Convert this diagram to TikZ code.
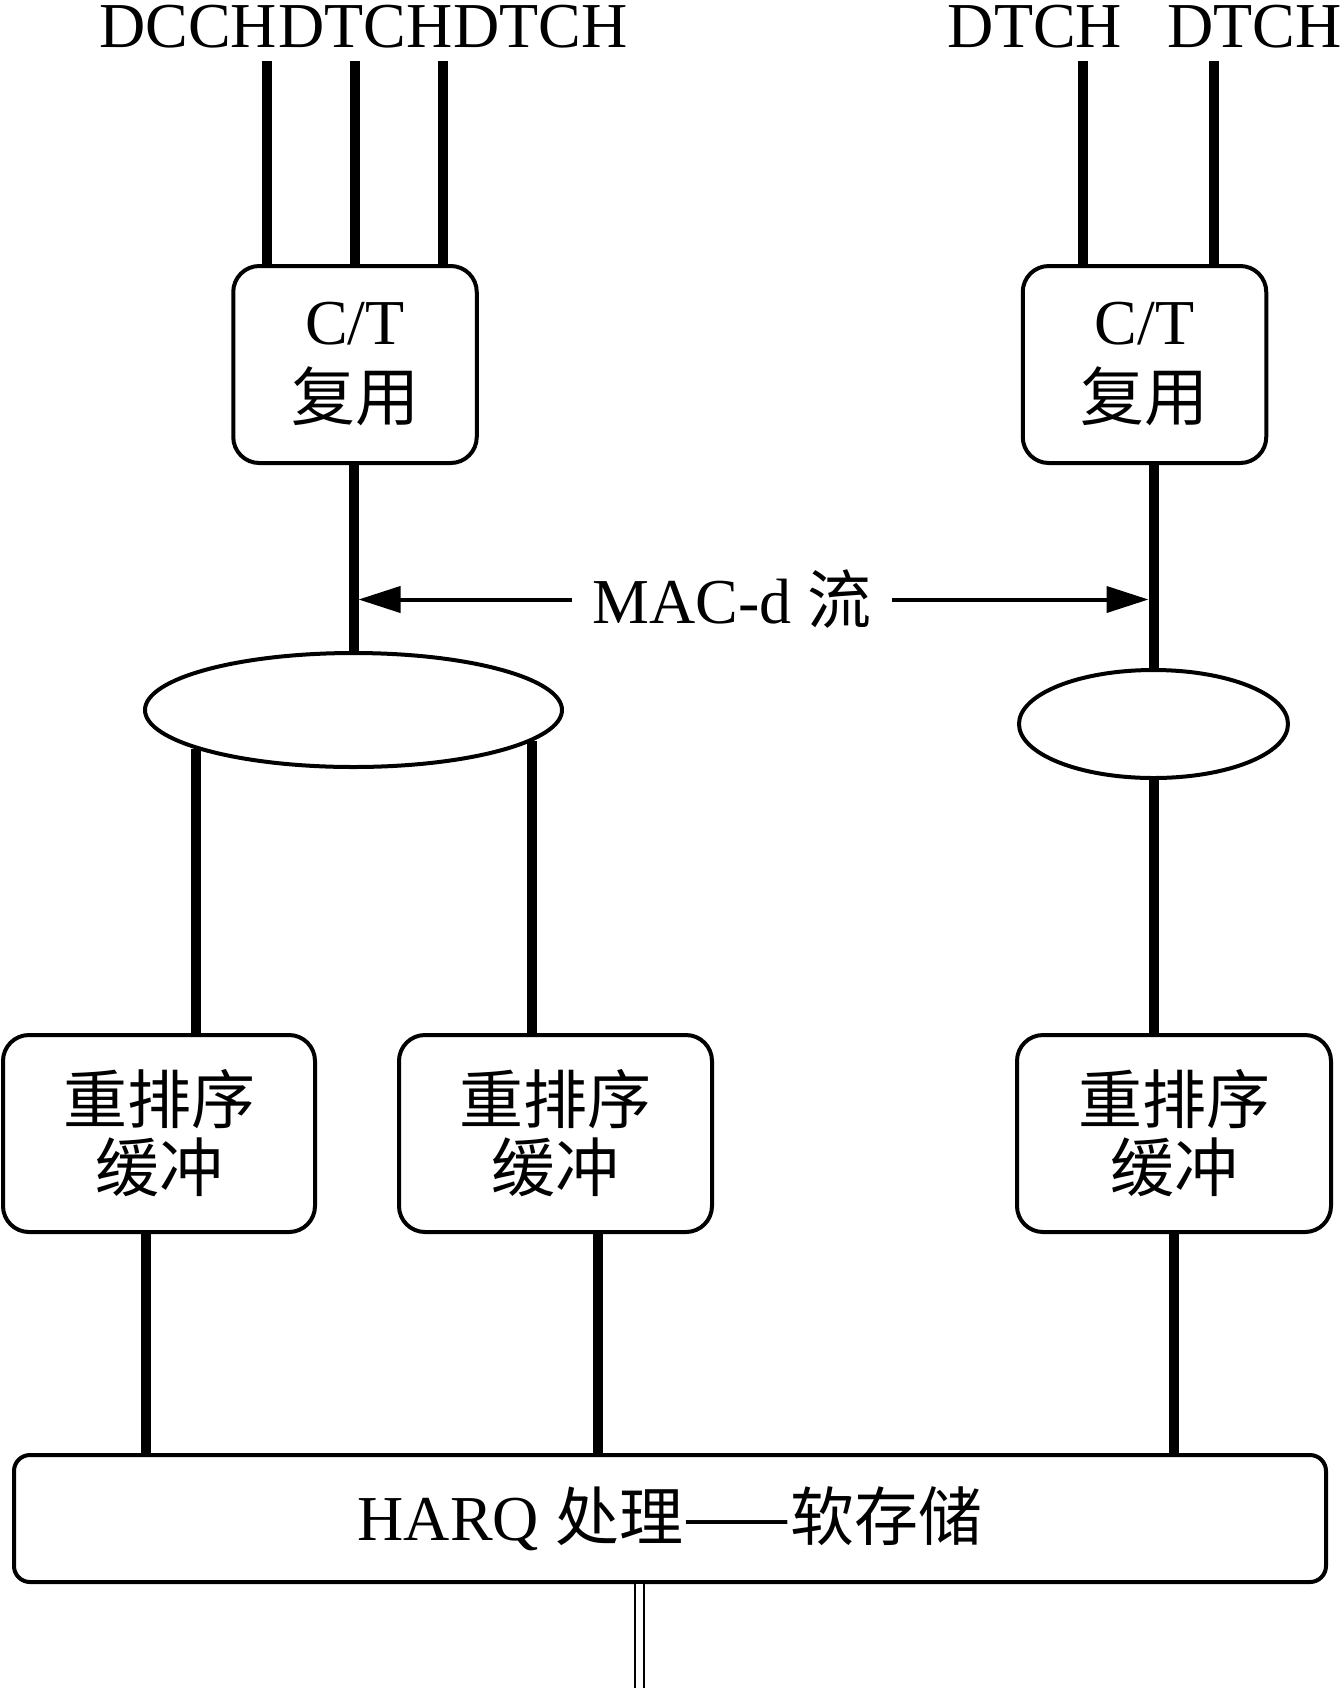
\documentclass[tikz,border=0pt]{standalone}
\usepackage{fontspec}
\setmainfont{Liberation Serif}
\newfontfamily\cjk{Noto Sans CJK SC}
\usetikzlibrary{shapes.geometric,arrows.meta}
\begin{document}
\begin{tikzpicture}[x=0.5pt,y=-0.5pt,
  every node/.style={font=\fontsize{32}{38}\selectfont},
  lbl/.style={inner sep=0pt},
  thk/.style={line width=5pt},
  ctbox/.style={draw,line width=2pt,rounded corners=13pt,align=center,inner sep=0pt,
    minimum width=121.75pt,minimum height=98.5pt},
  rbox/.style={draw,line width=2pt,rounded corners=13pt,align=center,inner sep=0pt,
    minimum height=98.5pt,font=\fontsize{32}{34}\selectfont},
  elly/.style={ellipse,draw,line width=2pt,inner sep=0pt},
  arr/.style={line width=2pt,-{Triangle[length=21pt,width=13pt]},shorten >=2.5pt},
  dbl/.style={line width=1.2pt,double distance=3.1pt}
]
\useasboundingbox (0,0) rectangle (1342,1688);

% top labels
\node[lbl,anchor=base west] (l1) at (99,47) {DCCH};
\node[lbl,anchor=base west] (l2) at (l1.base east) {DTCH};
\node[lbl,anchor=base west] (l3) at (l2.base east) {DTCH};
\node[lbl,anchor=base] (l4) at (1035,47) {DTCH};
\node[lbl,anchor=base east] (l5) at (1342,47) {DTCH};

% C/T boxes
\node[ctbox] (ct1) at (355,364.5) {C/T\\{\cjk 复用}};
\node[ctbox] (ct2) at (1144.5,364.5) {C/T\\{\cjk 复用}};

% top channel lines
\coordinate (t1) at (267,61);
\coordinate (t2) at (355,61);
\coordinate (t3) at (443,61);
\coordinate (t4) at (1083,61);
\coordinate (t5) at (1214,61);
\foreach \t in {t1,t2,t3} \draw[thk] (\t) -- (\t |- ct1.north);
\foreach \t in {t4,t5} \draw[thk] (\t) -- (\t |- ct2.north);

% ellipses
\node[elly,minimum width=208.5pt,minimum height=57pt] (e1) at (353.5,710) {};
\node[elly,minimum width=134.5pt,minimum height=54pt] (e2) at (1153.5,724) {};

\draw[thk] (e1.north |- ct1.south) -- (e1.north);
\draw[thk] (e2.north |- ct2.south) -- (e2.north);

% MAC-d flow label
\node[inner xsep=10pt] (mac) at (732,599.5) {MAC-d {\cjk 流}};
\draw[arr] (mac.west) -- (mac.west -| e1.north);
\draw[arr] (mac.east) -- (mac.east -| e2.north);

% reorder boxes
\node[rbox,minimum width=156pt] (rb1) at (159,1133.5) {{\cjk 重排序}\\{\cjk 缓冲}};
\node[rbox,minimum width=156.5pt] (rb2) at (555.5,1133.5) {{\cjk 重排序}\\{\cjk 缓冲}};
\node[rbox,minimum width=157pt] (rb3) at (1174,1133.5) {{\cjk 重排序}\\{\cjk 缓冲}};

\draw[thk] (e1.194.2) -- (e1.194.2 |- rb1.north);
\draw[thk] (e1.-10.6) -- (e1.-10.6 |- rb2.north);
\draw[thk] (e2.south) -- (e2.south |- rb3.north);

% HARQ box
\node[draw,line width=2pt,rounded corners=8pt,minimum width=656pt,minimum height=63.5pt,inner sep=0pt]
  (harq) at (670,1518.5) {HARQ {\cjk 处理——软存储}};

\coordinate (b1) at (146,1300);
\coordinate (b2) at (598,1300);
\coordinate (b3) at (1174,1300);
\draw[thk] (b1 |- rb1.south) -- (b1 |- harq.north);
\draw[thk] (b2 |- rb2.south) -- (b2 |- harq.north);
\draw[thk] (b3 |- rb3.south) -- (b3 |- harq.north);

% bottom double line
\coordinate (bot) at (639.5,1688);
\draw[dbl] (bot |- harq.south) -- (bot);
\end{tikzpicture}
\end{document}
